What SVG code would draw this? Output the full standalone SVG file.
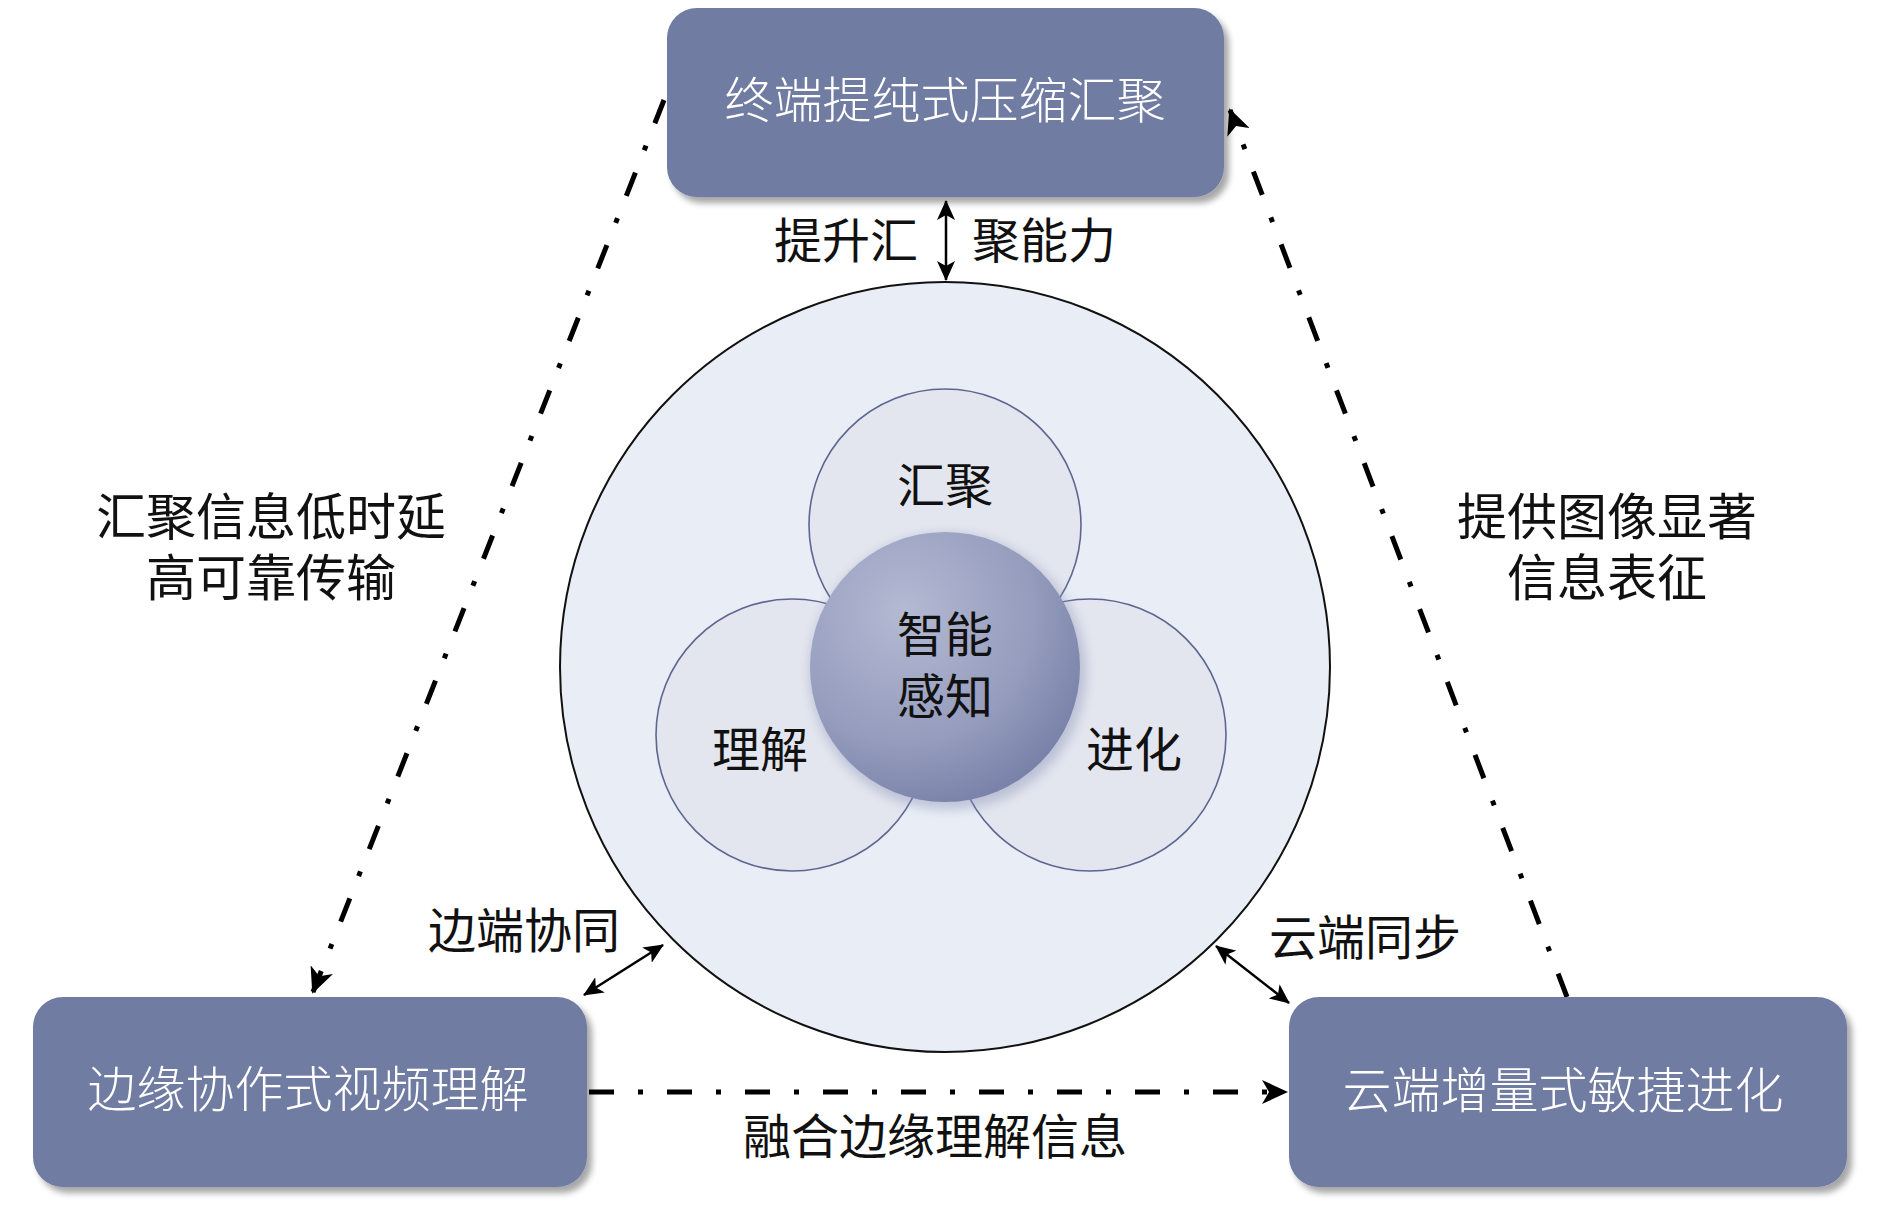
<svg xmlns="http://www.w3.org/2000/svg" width="1890" height="1207" viewBox="0 0 1890 1207">
  <defs>
    <style>
      .box { fill: #717ba3; filter: url(#shadow); }
      .boxtxt { fill: #ffffff; font-family: "Liberation Sans", "Noto Sans CJK SC", "Noto Sans CJK TC", sans-serif; font-size: 49px; font-weight: 300; text-anchor: middle; dominant-baseline: central; }
      .lbl { fill: #111111; font-family: "Liberation Sans", "Noto Sans CJK SC", "Noto Sans CJK TC", sans-serif; font-size: 48px; font-weight: 400; text-anchor: middle; dominant-baseline: central; }
      .dashdot { fill: none; stroke: #000; stroke-width: 5; stroke-dasharray: 25 24 5 24; }
      .thin { fill: none; stroke: #000; stroke-width: 2.5; }
      .petal { fill: #e3e6ef; stroke: #5e6590; stroke-width: 1.6; }
    </style>
    <filter id="shadow" x="-10%" y="-10%" width="125%" height="130%">
      <feDropShadow dx="5" dy="6" stdDeviation="3" flood-color="#000" flood-opacity="0.35"/>
    </filter>
    <filter id="glow" x="-30%" y="-30%" width="160%" height="160%">
      <feGaussianBlur stdDeviation="6"/>
    </filter>
    <radialGradient id="coreGrad" cx="35%" cy="30%" r="80%">
      <stop offset="0" stop-color="#b4bad3"/>
      <stop offset="0.6" stop-color="#959cbd"/>
      <stop offset="1" stop-color="#737ca5"/>
    </radialGradient>
    <marker id="bigHead" markerUnits="userSpaceOnUse" markerWidth="26" markerHeight="24" viewBox="0 0 26 24" refX="24" refY="12" orient="auto">
      <path d="M0,0 L26,12 L0,24 L7,12 z" fill="#000"/>
    </marker>
    <marker id="smallHead" markerUnits="userSpaceOnUse" markerWidth="20" markerHeight="18" viewBox="0 0 20 18" refX="19" refY="9" orient="auto-start-reverse">
      <path d="M0,0 L20,9 L0,18 L5,9 z" fill="#000"/>
    </marker>
  </defs>

  <rect width="1890" height="1207" fill="#ffffff"/>

  <g id="connectors">
    <line class="dashdot" x1="664" y1="100" x2="313" y2="992" marker-end="url(#bigHead)"/>
    <line class="dashdot" x1="1567" y1="997" x2="1230" y2="110" marker-end="url(#bigHead)"/>
    <line class="dashdot" x1="589" y1="1092" x2="1286" y2="1092" marker-end="url(#bigHead)"/>
    <line class="thin" x1="946" y1="201" x2="946" y2="280" marker-start="url(#smallHead)" marker-end="url(#smallHead)"/>
    <line class="thin" x1="584" y1="995" x2="663" y2="945" marker-start="url(#smallHead)" marker-end="url(#smallHead)"/>
    <line class="thin" x1="1216" y1="946" x2="1289" y2="1003" marker-start="url(#smallHead)" marker-end="url(#smallHead)"/>
  </g>

  <g id="outer-circle">
    <circle cx="945" cy="667" r="385" fill="#e9eef6" stroke="#111" stroke-width="2"/>
  </g>

  <g id="petal-huiju">
    <circle class="petal" cx="945" cy="525" r="136"/>
    <text class="lbl" x="945" y="486">汇聚</text>
  </g>
  <g id="petal-lijie">
    <circle class="petal" cx="792" cy="735" r="136"/>
    <text class="lbl" x="760" y="750">理解</text>
  </g>
  <g id="petal-jinhua">
    <circle class="petal" cx="1090" cy="735" r="136"/>
    <text class="lbl" x="1134" y="750">进化</text>
  </g>

  <g id="core">
    <circle cx="948" cy="672" r="138" fill="#8890b4" opacity="0.45" filter="url(#glow)"/>
    <circle cx="945" cy="667" r="135" fill="url(#coreGrad)"/>
    <text class="lbl" x="945" y="635">智能</text>
    <text class="lbl" x="945" y="697">感知</text>
  </g>

  <g id="node-top">
    <rect class="box" x="667" y="8" width="557" height="189" rx="30" ry="30"/>
    <text class="boxtxt" x="945" y="101">终端提纯式压缩汇聚</text>
  </g>
  <g id="node-left">
    <rect class="box" x="33" y="997" width="554" height="190" rx="30" ry="30"/>
    <text class="boxtxt" x="308" y="1090">边缘协作式视频理解</text>
  </g>
  <g id="node-right">
    <rect class="box" x="1289" y="997" width="558" height="190" rx="30" ry="30"/>
    <text class="boxtxt" x="1563" y="1091">云端增量式敏捷进化</text>
  </g>

  <g id="labels">
    <text class="lbl" x="846" y="241">提升汇</text>
    <text class="lbl" x="1044" y="241">聚能力</text>
    <text class="lbl" x="271" y="518" style="font-size:50px">汇聚信息低时延</text>
    <text class="lbl" x="271" y="579" style="font-size:50px">高可靠传输</text>
    <text class="lbl" x="1607" y="518" style="font-size:50px">提供图像显著</text>
    <text class="lbl" x="1607" y="579" style="font-size:50px">信息表征</text>
    <text class="lbl" x="524" y="931">边端协同</text>
    <text class="lbl" x="1365" y="938">云端同步</text>
    <text class="lbl" x="935" y="1137">融合边缘理解信息</text>
  </g>
</svg>
